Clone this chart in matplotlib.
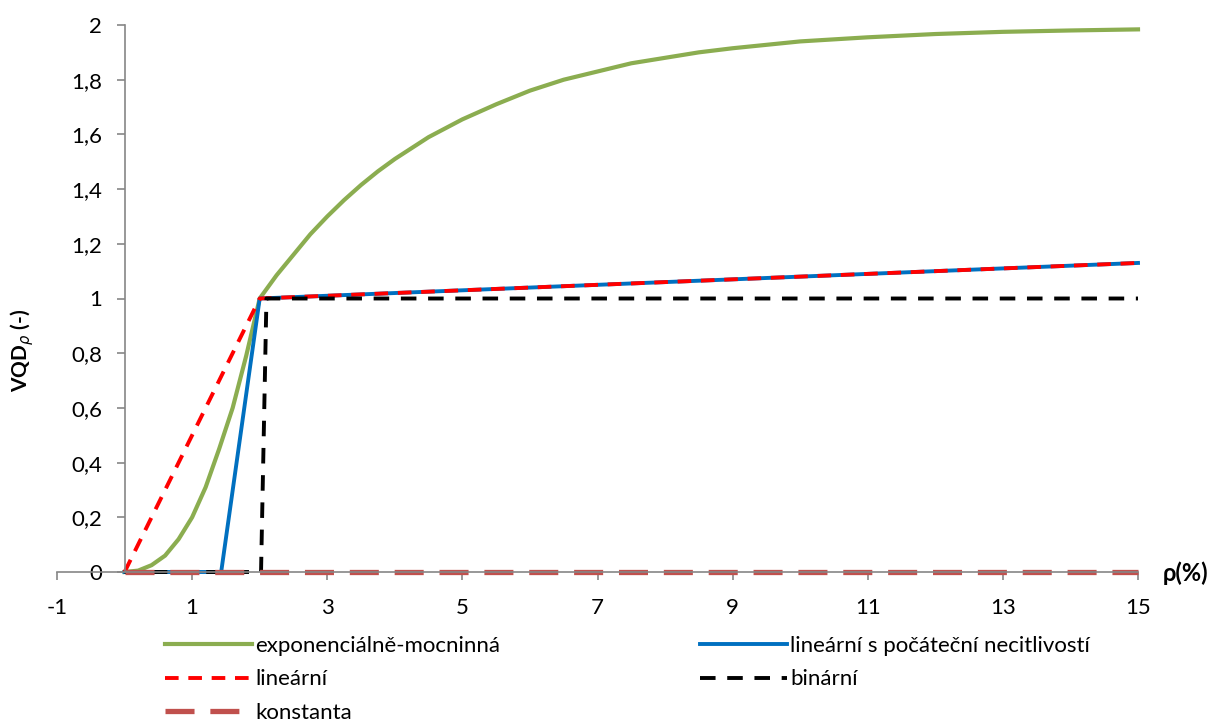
import matplotlib
matplotlib.use("Agg")
import matplotlib.pyplot as plt

plt.rcParams['font.family'] = ['Lato', 'DejaVu Sans']

# data
rho_exp = [0, 0.2, 0.4, 0.6, 0.8, 1.0, 1.2, 1.4, 1.6, 1.8, 2.0,
           2.25, 2.5, 2.75, 3, 3.25, 3.5, 3.75, 4, 4.5, 5, 5.5, 6, 6.5, 7,
           7.5, 8, 8.5, 9, 10, 11, 12, 13, 14, 15]
vqd_exp = [0, 0.005, 0.025, 0.06, 0.12, 0.2, 0.31, 0.45, 0.6, 0.79, 1.0,
           1.085, 1.16, 1.235, 1.3, 1.36, 1.415, 1.465, 1.51, 1.59, 1.655, 1.71, 1.76, 1.8, 1.83,
           1.86, 1.88, 1.9, 1.915, 1.94, 1.955, 1.967, 1.975, 1.98, 1.984]

rho_lin_ins = [0, 1.43, 2, 15]
vqd_lin_ins = [0, 0, 1, 1.13]

rho_lin = [0, 2, 15]
vqd_lin = [0, 1, 1.13]

rho_bin = [0, 2.02, 2.1, 15]
vqd_bin = [0, 0, 1, 1]

rho_const = [0, 15]
vqd_const = [0, 0]

xticks = [-1, 1, 3, 5, 7, 9, 11, 13, 15]
yticks = [0, 0.2, 0.4, 0.6, 0.8, 1.0, 1.2, 1.4, 1.6, 1.8, 2.0]
ytick_labels = ['0', '0,2', '0,4', '0,6', '0,8', '1', '1,2', '1,4', '1,6', '1,8', '2']

fig = plt.figure(figsize=(12.15, 7.25), dpi=100)
ax = fig.add_axes([57 / 1215, 1 - 572 / 725, (1138 - 57) / 1215, (572 - 25) / 725])

l_exp, = ax.plot(rho_exp, vqd_exp, color='#8BAD50', lw=3.0, clip_on=False,
                 label='exponenciálně-mocninná')
l_ins, = ax.plot(rho_lin_ins, vqd_lin_ins, color='#0070C0', lw=2.8, clip_on=False,
                 label='lineární s počáteční necitlivostí')
l_lin, = ax.plot(rho_lin, vqd_lin, color='#FF0000', lw=2.8, clip_on=False,
                 dashes=(3.5, 2.5), label='lineární')
l_bin, = ax.plot(rho_bin, vqd_bin, color='black', lw=2.8, clip_on=False,
                 dashes=(4, 3), label='binární')
l_const, = ax.plot(rho_const, vqd_const, color='#C0504D', lw=3.8, clip_on=False,
                   dashes=(5.5, 3), label='konstanta')

ax.set_xlim(-1, 15)
ax.set_ylim(0, 2)
ax.spines['top'].set_visible(False)
ax.spines['right'].set_visible(False)
ax.spines['left'].set_position(('data', 0))
ax.spines['bottom'].set_position(('data', 0))
for s in ['left', 'bottom']:
    ax.spines[s].set_color('#868686')
    ax.spines[s].set_linewidth(1.2)

ax.set_xticks(xticks)
ax.set_xticklabels([str(t) for t in xticks])
ax.set_yticks(yticks)
ax.set_yticklabels(ytick_labels)
ax.tick_params(axis='both', colors='#868686', labelcolor='black', labelsize=16,
               length=6, width=1.2)
ax.tick_params(axis='x', pad=13)
ax.tick_params(axis='y', pad=10)

fig.text(22 / 1215, 1 - 350 / 725, r'VQD$_\rho$ (-)', rotation=90, ha='center',
         va='center', fontsize=15, fontweight='bold')
fig.text(1163 / 1215, 1 - 573 / 725, 'ρ(%)', ha='left', va='center',
         fontsize=17, fontweight='bold')

leg_kw = dict(frameon=False, fontsize=16, handlelength=3.9, handletextpad=0.15,
              labelspacing=0.6, borderpad=0, borderaxespad=0)
fig.legend(handles=[l_exp, l_lin, l_const], loc='upper left',
           bbox_to_anchor=(165 / 1215, 1 - 636 / 725), **leg_kw)
fig.legend(handles=[l_ins, l_bin], loc='upper left',
           bbox_to_anchor=(700 / 1215, 1 - 636 / 725), **leg_kw)

fig.savefig('out.png', dpi=100)
